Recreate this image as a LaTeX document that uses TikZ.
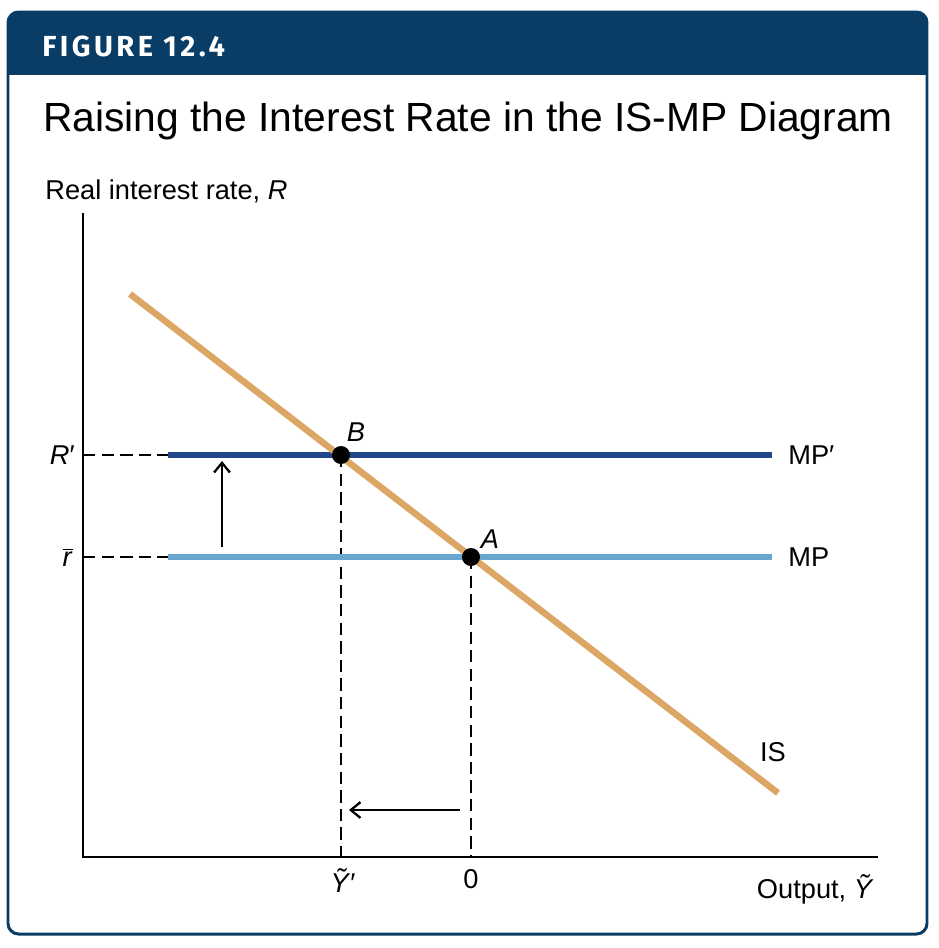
\documentclass[tikz,border=0pt]{standalone}
\usepackage{fontspec}
\setmainfont{Liberation Sans}
\newfontfamily\headfont[LetterSpace=12]{Fira Sans}
\usetikzlibrary{arrows.meta,positioning}

\definecolor{headblue}{HTML}{0A3D66}
\definecolor{mpdark}{HTML}{22468A}
\definecolor{mplight}{HTML}{6AA6D0}
\definecolor{isorange}{HTML}{DCA664}

\begin{document}
\begin{tikzpicture}[x=0.02cm,y=-0.02cm,
		axis/.style={line width=1.1pt},
		guide/.style={line width=0.85pt,dash pattern=on 7pt off 3.6pt},
		curve/.style={line width=3.7pt},
		shiftarrow/.style={line width=0.9pt,-{Straight Barb[length=5.5pt,width=9pt,line width=1.3pt]}},
		lbl/.style={font=\fontsize{15.5}{18}\selectfont,inner sep=0pt}]
			\useasboundingbox (0,0) rectangle (938,948);
			% frame and header
			\coordinate (TL) at (8,12);
			\coordinate (BR) at (927,934);
			\begin{scope}
				\clip[rounded corners=6pt] (TL) rectangle (BR);
				\fill[headblue] (TL) rectangle (927,75);
			\end{scope}
			\draw[headblue,line width=1.7pt,rounded corners=6pt] (TL) rectangle (BR);
			\node[anchor=west,inner sep=0pt,text=white,font=\headfont\bfseries\fontsize{16.5}{18}\selectfont] (fig) at (42,46) {FIGURE 12.4};
			\node[anchor=base west,inner sep=0pt,font=\fontsize{23.2}{28}\selectfont] (title) at (43,131) {Raising the Interest Rate in the IS-MP Diagram};
			% axes
			\coordinate (O) at (83,857);
			\coordinate (Ytop) at (83,213);
			\coordinate (Xend) at (878,857);
			\draw[axis] (Ytop) -- (O) -- (Xend);
			\node[lbl,anchor=base west] (ylab) at (45,199) {Real interest rate, \textit{R}};
			\node[lbl,anchor=base east] (xlab) at (874,898) {Output, \textit{Ỹ}};
			% points
			\coordinate (B) at (341,455);
			\coordinate (A) at (471,557);
			\coordinate (Rp) at (83,455);
			\coordinate (rb) at (83,557);
			\coordinate (Yp) at (341,857);
			\coordinate (Y0) at (471,857);
			\coordinate (MPpL) at (168,455);
			\coordinate (MPpR) at (772,455);
			\coordinate (MPL) at (168,557);
			\coordinate (MPR) at (772,557);
			\coordinate (ISa) at (130,294);
			\coordinate (ISb) at (778,793);
			% dashed guides
			\draw[guide] (Rp) -- (MPpL);
			\draw[guide] (rb) -- (MPL);
			\draw[guide] (B) -- (Yp);
			\draw[guide] (A) -- (Y0);
			% curves
			\draw[curve,mplight] (MPL) -- (MPR);
			\draw[curve,mpdark] (MPpL) -- (MPpR);
			\draw[curve,isorange] (ISa) -- (ISb);
			\fill (B) circle [radius=9];
			\fill (A) circle [radius=9];
			% shifts
			\coordinate (up1) at (222,547);
			\coordinate (up2) at (222,461);
			\coordinate (lf1) at (460,810);
			\coordinate (lf2) at (349,810);
			\draw[shiftarrow] (up1) -- (up2);
			\draw[shiftarrow] (lf1) -- (lf2);
			% labels
			\node[lbl] (Blab) at (356,432) {\textit{B}};
			\node[lbl] (Alab) at (490,539) {\textit{A}};
			\node[lbl,anchor=east] (Rplab) at (75,455) {\textit{R}′};
			\node[lbl,anchor=east] (rblab) at (73,557) {$\overline{\mbox{\textit{r}}}$};
			\node[lbl,anchor=west] (MPplab) at (788,455) {MP′};
			\node[lbl,anchor=west] (MPlab) at (788,557) {MP};
			\node[lbl] (ISlab) at (773,752) {IS};
			\node[lbl,anchor=base] (Yplab) at (343,892) {\textit{Ỹ}′};
			\node[lbl,anchor=base] (Y0lab) at (471,888) {0};
		\end{tikzpicture}
\end{document}
